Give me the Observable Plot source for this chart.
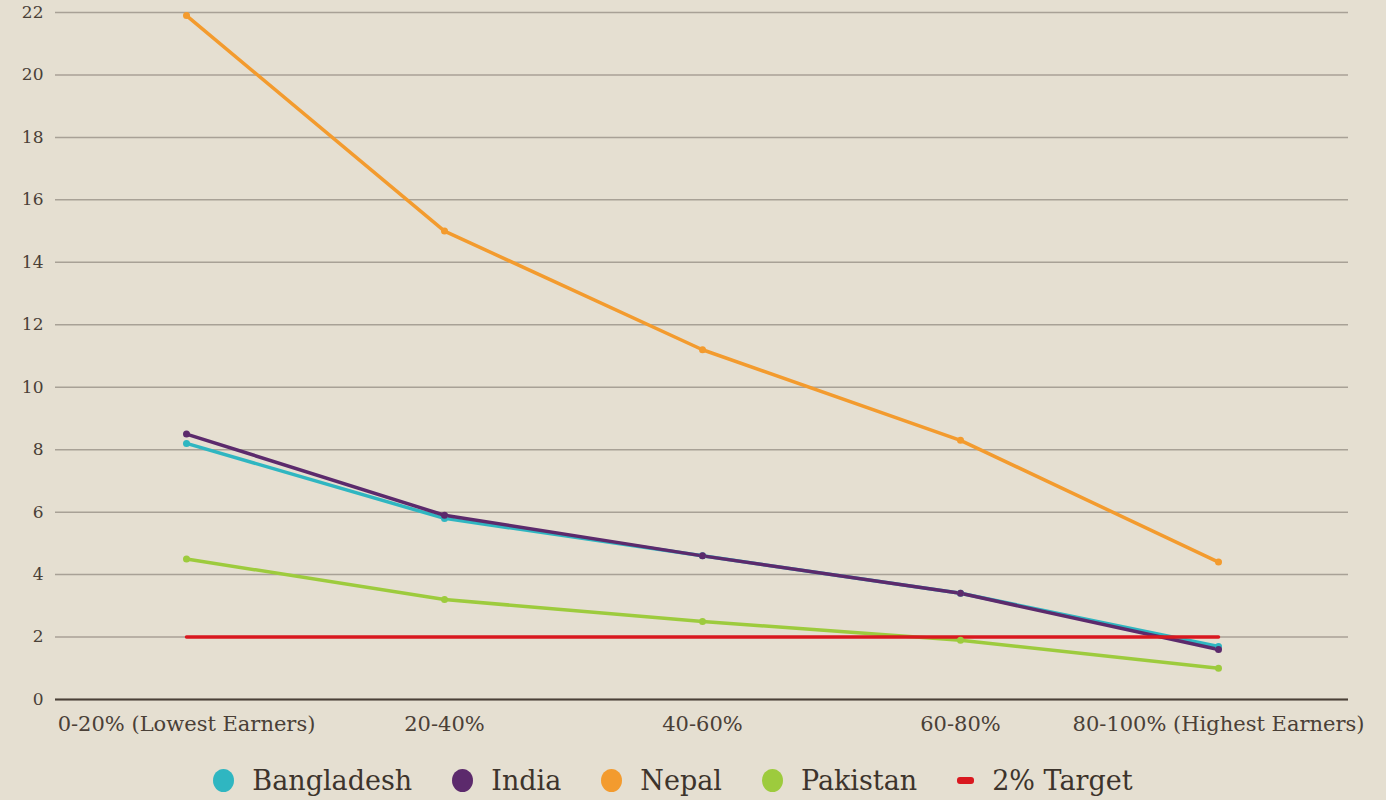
<!DOCTYPE html>
<html>
<head>
<meta charset="utf-8">
<script src="https://cdn.jsdelivr.net/npm/d3@7"></script>
<script src="https://cdn.jsdelivr.net/npm/@observablehq/plot@0.6"></script>
<style>
  html, body { margin: 0; padding: 0; background: #e5dfd1; }
  #chart svg { display: block; }
  .legend { display: flex; justify-content: center; align-items: center; gap: 40px;
    font-family: "DejaVu Serif", serif; font-size: 27px; color: #3d342c; margin-left: -40px; margin-top: 25px; }
  .legend .item { display: flex; align-items: center; gap: 18px; }
  .legend .dot { width: 21px; height: 23px; border-radius: 50%; display: inline-block; }
  .legend .dash { width: 17px; height: 7px; border-radius: 3px; display: inline-block; }
</style>
</head>
<body>
<div id="chart"></div>
<div class="legend" id="legend"></div>
<script>
const categories = ["0-20% (Lowest Earners)", "20-40%", "40-60%", "60-80%", "80-100% (Highest Earners)"];
const bangladesh = [8.2, 5.8, 4.6, 3.4, 1.7];
const india = [8.5, 5.9, 4.6, 3.4, 1.6];
const nepal = [21.9, 15.0, 11.2, 8.3, 4.4];
const pakistan = [4.5, 3.2, 2.5, 1.9, 1.0];
const target = [2, 2, 2, 2, 2];
const seriesNames = ["Bangladesh", "India", "Nepal", "Pakistan", "2% Target"];
const seriesColors = ["#2fb6c1", "#5c2a6c", "#f39b2e", "#9dcb3d", "#d9181f"];
const yTicks = [0, 2, 4, 6, 8, 10, 12, 14, 16, 18, 20, 22];

const seriesValues = [bangladesh, india, nepal, pakistan, target];
const data = [];
seriesNames.forEach((s, i) => {
  categories.forEach((c, j) => data.push({series: s, category: c, value: seriesValues[i][j]}));
});
const dotData = data.filter(d => d.series !== "2% Target");

const chart = Plot.plot({
  width: 1386,
  height: 740,
  marginTop: 12,
  marginBottom: 41,
  marginLeft: 55,
  marginRight: 38,
  style: { background: "#e5dfd1", fontFamily: "DejaVu Serif, serif", color: "#4a4037" },
  x: { type: "point", domain: categories, padding: 0.5, label: null },
  y: { domain: [0, 22], label: null },
  color: { domain: seriesNames, range: seriesColors },
  marks: [
    Plot.gridY(yTicks, { stroke: "#a8a196", strokeOpacity: 1, strokeWidth: 1.5 }),
    Plot.ruleY([0], { stroke: "#4a4037", strokeWidth: 2 }),
    Plot.axisY(yTicks, { tickSize: 0, tickPadding: 12, fontSize: 17, label: null, fill: "#4a4037" }),
    Plot.axisX({ tickSize: 0, tickPadding: 17, fontSize: 21, label: null, fill: "#4a4037" }),
    Plot.line(data, { x: "category", y: "value", z: "series", stroke: "series", strokeWidth: 3.5 }),
    Plot.dot(dotData, { x: "category", y: "value", fill: "series", r: 3.5 })
  ]
});
document.getElementById("chart").appendChild(chart);

const legend = document.getElementById("legend");
seriesNames.forEach((s, i) => {
  const item = document.createElement("div");
  item.className = "item";
  const sw = document.createElement("span");
  sw.className = s === "2% Target" ? "dash" : "dot";
  sw.style.background = seriesColors[i];
  const t = document.createElement("span");
  t.textContent = s;
  item.appendChild(sw); item.appendChild(t);
  legend.appendChild(item);
});
</script>
</body>
</html>
